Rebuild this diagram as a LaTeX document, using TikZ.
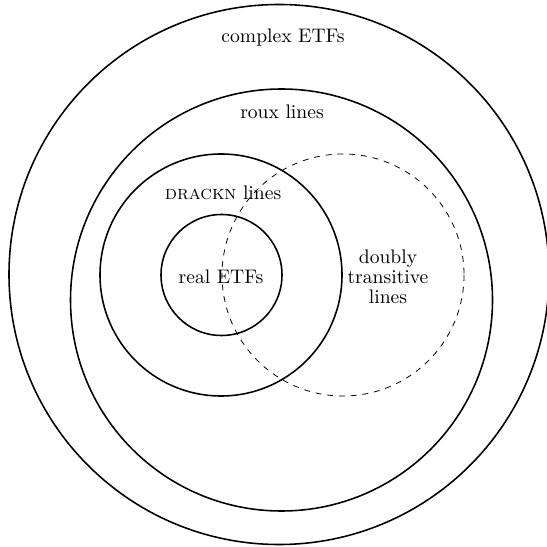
\documentclass[tikz,border=0pt]{standalone}
\begin{document}
\begin{tikzpicture}[x=0.51pt,y=-0.51pt,
  solidring/.style={thick},
  dashring/.style={dashed},
  lbl/.style={align=center,inner sep=0pt}]
\useasboundingbox (0,0) rectangle (547,547);
\draw[solidring] (279,274.5) circle[radius=270];
\draw[solidring] (281.5,300) circle[radius=211];
\draw[solidring] (221,275) circle[radius=121];
\draw[solidring] (221.5,275) circle[radius=60.5];
\draw[dashring] (343,275) circle[radius=121];
\node[lbl] (complex) at (283,38) {complex ETFs};
\node[lbl] (roux) at (282,112) {roux lines};
\node[lbl] (drackn) at (223,193) {\textsc{drackn} lines};
\node[lbl] (real) at (221,277) {real ETFs};
\node[lbl] (doubly) at (388,277) {doubly\\[-1.8pt]transitive\\[-1.8pt]lines};
\end{tikzpicture}
\end{document}
